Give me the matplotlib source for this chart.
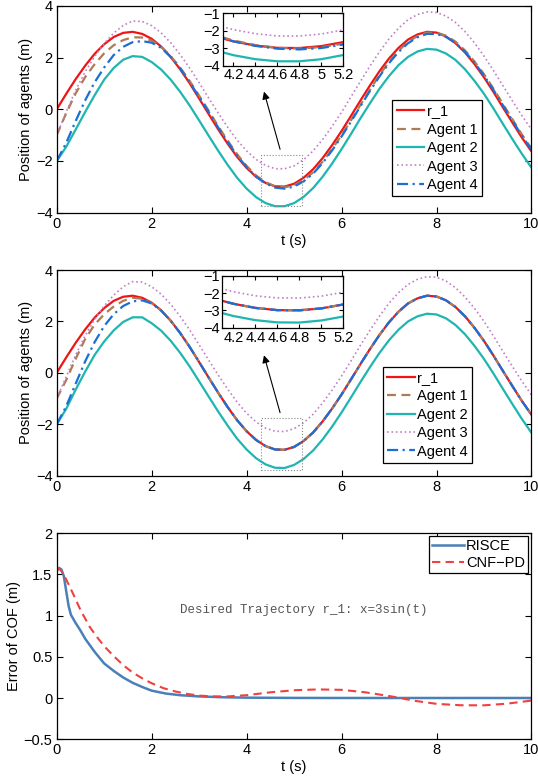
import numpy as np
import matplotlib
matplotlib.use('Agg')
import matplotlib.pyplot as plt
from matplotlib.patches import Rectangle

plt.rcParams['font.family'] = ['Liberation Sans', 'DejaVu Sans']
plt.rcParams['font.size'] = 10.5

# ---------------- data ----------------
t = np.round(np.arange(0, 10.001, 0.2), 1)

r1 = [0.00, 0.60, 1.17, 1.69, 2.15, 2.52, 2.80, 2.96, 3.00, 2.92,
      2.73, 2.43, 2.03, 1.55, 1.01, 0.42, -0.18, -0.77, -1.33, -1.84,
      -2.27, -2.61, -2.85, -2.98, -2.99, -2.88, -2.65, -2.32, -1.89, -1.39,
      -0.84, -0.25, 0.35, 0.93, 1.48, 1.97, 2.38, 2.70, 2.90, 3.00,
      2.97, 2.82, 2.56, 2.20, 1.75, 1.24, 0.67, 0.07, -0.52, -1.10, -1.63]

# panel 1 (top)
p1_agent1 = [-1.00, -0.15, 0.62, 1.25, 1.75, 2.17, 2.48, 2.68, 2.79, 2.78,
             2.66, 2.42, 2.06, 1.62, 1.10, 0.53, -0.05, -0.65, -1.21, -1.74,
             -2.19, -2.56, -2.82, -2.98, -3.02, -2.94, -2.74, -2.44, -2.03, -1.54,
             -1.00, -0.42, 0.18, 0.77, 1.33, 1.84, 2.27, 2.61, 2.84, 2.97,
             2.97, 2.85, 2.62, 2.28, 1.85, 1.36, 0.80, 0.20, -0.39, -0.98, -1.52]
p1_agent2 = [-2.00, -1.45, -0.78, -0.10, 0.55, 1.15, 1.60, 1.92, 2.06, 2.03,
             1.83, 1.54, 1.15, 0.68, 0.15, -0.43, -1.02, -1.60, -2.15, -2.65,
             -3.07, -3.40, -3.63, -3.75, -3.75, -3.63, -3.39, -3.05, -2.61, -2.10,
             -1.54, -0.95, -0.34, 0.24, 0.80, 1.29, 1.71, 2.03, 2.24, 2.34,
             2.31, 2.16, 1.91, 1.55, 1.10, 0.60, 0.03, -0.57, -1.16, -1.73, -2.26]
p1_agent3 = [-1.00, -0.10, 0.75, 1.45, 2.05, 2.55, 2.95, 3.25, 3.42, 3.40,
             3.24, 2.96, 2.58, 2.12, 1.60, 1.03, 0.44, -0.14, -0.69, -1.19,
             -1.61, -1.94, -2.17, -2.30, -2.30, -2.19, -1.95, -1.61, -1.17, -0.66,
             -0.11, 0.49, 1.09, 1.68, 2.23, 2.73, 3.14, 3.47, 3.67, 3.77,
             3.75, 3.61, 3.36, 3.01, 2.57, 2.06, 1.50, 0.91, 0.32, -0.25, -0.78]
p1_agent4 = [-2.00, -1.30, -0.45, 0.35, 1.05, 1.62, 2.10, 2.42, 2.60, 2.64,
             2.58, 2.38, 2.03, 1.58, 1.05, 0.48, -0.10, -0.70, -1.26, -1.79,
             -2.24, -2.61, -2.87, -3.03, -3.07, -2.99, -2.79, -2.49, -2.08, -1.59,
             -1.05, -0.47, 0.13, 0.72, 1.28, 1.79, 2.22, 2.56, 2.79, 2.92,
             2.92, 2.80, 2.57, 2.23, 1.80, 1.31, 0.75, 0.15, -0.44, -1.03, -1.57]

# panel 2 (middle)
p2_agent1 = [-1.00, -0.28, 0.55, 1.32, 1.88, 2.28, 2.58, 2.80, 2.92, 2.88,
             2.71, 2.43, 2.03, 1.55, 1.01, 0.42, -0.18, -0.77, -1.33, -1.84,
             -2.27, -2.61, -2.85, -2.98, -2.99, -2.88, -2.65, -2.32, -1.89, -1.39,
             -0.84, -0.25, 0.35, 0.93, 1.48, 1.97, 2.38, 2.70, 2.90, 3.00,
             2.97, 2.82, 2.56, 2.20, 1.75, 1.24, 0.67, 0.07, -0.52, -1.10, -1.63]
p2_agent2 = [-2.00, -1.40, -0.65, 0.05, 0.70, 1.22, 1.65, 1.98, 2.16, 2.16,
             1.93, 1.64, 1.25, 0.78, 0.25, -0.33, -0.92, -1.50, -2.05, -2.56,
             -2.98, -3.32, -3.56, -3.69, -3.70, -3.58, -3.35, -3.02, -2.59, -2.09,
             -1.54, -0.95, -0.35, 0.23, 0.78, 1.27, 1.68, 2.00, 2.20, 2.30,
             2.27, 2.12, 1.86, 1.50, 1.05, 0.54, -0.03, -0.63, -1.22, -1.80, -2.33]
p2_agent3 = [-1.00, -0.15, 0.70, 1.45, 2.08, 2.60, 3.02, 3.35, 3.55, 3.53,
             3.35, 3.06, 2.67, 2.20, 1.67, 1.09, 0.50, -0.08, -0.63, -1.14,
             -1.57, -1.91, -2.15, -2.27, -2.28, -2.17, -1.94, -1.61, -1.17, -0.67,
             -0.12, 0.47, 1.08, 1.66, 2.21, 2.71, 3.12, 3.44, 3.64, 3.74,
             3.72, 3.57, 3.31, 2.95, 2.51, 2.00, 1.43, 0.83, 0.24, -0.33, -0.86]
p2_agent4 = [-2.00, -1.30, -0.42, 0.45, 1.20, 1.82, 2.28, 2.60, 2.78, 2.82,
             2.70, 2.42, 2.03, 1.55, 1.01, 0.42, -0.18, -0.77, -1.33, -1.84,
             -2.27, -2.61, -2.85, -2.98, -2.99, -2.88, -2.65, -2.32, -1.89, -1.39,
             -0.84, -0.25, 0.35, 0.93, 1.48, 1.97, 2.38, 2.70, 2.90, 3.00,
             2.97, 2.82, 2.56, 2.20, 1.75, 1.24, 0.67, 0.07, -0.52, -1.10, -1.63]

# panel 3 (bottom): error of COF
t_risce = [0, 0.05, 0.1, 0.15, 0.2, 0.25, 0.3, 0.35, 0.4, 0.5, 0.6, 0.8, 1.0,
           1.2, 1.4, 1.6, 1.8, 2.0, 2.3, 2.6, 3.0, 3.5, 4.0, 5.0, 6.0, 8.0, 10.0]
err_risce = [1.55, 1.58, 1.56, 1.48, 1.30, 1.12, 1.01, 0.96, 0.91, 0.82, 0.72,
             0.56, 0.42, 0.33, 0.25, 0.185, 0.135, 0.09, 0.055, 0.035, 0.02,
             0.01, 0.005, 0.002, 0.001, 0.001, 0.001]
t_cnf = [0, 0.05, 0.1, 0.2, 0.35, 0.5, 0.7, 0.85, 1.0, 1.2, 1.4, 1.6, 1.8, 2.0,
         2.25, 2.5, 2.75, 3.0, 3.3, 3.6, 4.0, 4.5, 5.0, 5.5, 6.0, 6.5, 7.0,
         7.25, 7.5, 8.0, 8.5, 9.0, 9.5, 10.0]
err_cnf = [1.55, 1.57, 1.54, 1.44, 1.26, 1.07, 0.86, 0.74, 0.63, 0.51, 0.40,
           0.31, 0.24, 0.18, 0.12, 0.08, 0.05, 0.03, 0.02, 0.02, 0.035, 0.07,
           0.095, 0.105, 0.10, 0.07, 0.025, 0.0, -0.03, -0.07, -0.087, -0.088,
           -0.067, -0.03]

x_ticks = [0, 2, 4, 6, 8, 10]
pos_ticks = [-4, -2, 0, 2, 4]
err_ticks = [-0.5, 0, 0.5, 1, 1.5, 2]
inset_xticks = [4.2, 4.4, 4.6, 4.8, 5, 5.2]
inset_xlabels = ['4.2', '4.4', '4.6', '4.8', '5', '5.2']
inset_yticks = [-4, -3, -2, -1]
labels = ['r_1', 'Agent 1', 'Agent 2', 'Agent 3', 'Agent 4']

# ---------------- styles ----------------
C_R = '#f01414'
C_A1 = '#b07a55'
C_A2 = '#1fb5b0'
C_A3 = '#c27fc9'
C_A4 = '#1a6fd6'


def style(ax):
    ax.tick_params(direction='in', top=True, right=True, length=4, width=0.8,
                   pad=3, labelsize=10.5)
    for s in ax.spines.values():
        s.set_linewidth(0.9)


def draw_curves(ax, a1, a2, a3, a4):
    h = []
    h += ax.plot(t, r1, '-', color=C_R, lw=1.6)
    h += ax.plot(t, a1, '--', color=C_A1, lw=1.6, dashes=(4, 2.5))
    h += ax.plot(t, a2, '-', color=C_A2, lw=1.6)
    h += ax.plot(t, a3, ':', color=C_A3, lw=1.2)
    h += ax.plot(t, a4, '-.', color=C_A4, lw=1.6, dashes=(5, 2, 1, 2))
    return h


fig = plt.figure(figsize=(5.38, 7.79), dpi=100)

L, W = 0.1054, 0.8825
panels = [(0.727, 0.2653), (0.3893, 0.2641)]
insets = [(0.4136, 0.9157, 0.2245, 0.0673), (0.4132, 0.5793, 0.2249, 0.0664)]
legend_anchor = [(0.707, 0.545), (0.687, 0.53)]
data = [(p1_agent1, p1_agent2, p1_agent3, p1_agent4),
        (p2_agent1, p2_agent2, p2_agent3, p2_agent4)]

for k in range(2):
    b, hgt = panels[k]
    ax = fig.add_axes([L, b, W, hgt])
    hs = draw_curves(ax, *data[k])
    ax.set_xlim(0, 10)
    ax.set_ylim(-4, 4)
    ax.set_xticks(x_ticks)
    ax.set_yticks(pos_ticks)
    style(ax)
    ax.set_ylabel('Position of agents (m)', labelpad=2)
    if k == 0:
        ax.set_xlabel('t (s)', labelpad=2)
    ax.add_patch(Rectangle((4.3, -3.76), 0.87, 2.0, fill=False, ls=':',
                           ec='#888888', lw=0.8, zorder=5))
    ax.annotate('', xy=(4.35, 0.79), xytext=(4.72, -1.65),
                arrowprops=dict(arrowstyle='-|>', color='k', lw=0.8,
                                mutation_scale=11))
    leg = ax.legend(hs, labels, loc='upper left', bbox_to_anchor=legend_anchor[k],
                    fancybox=False, framealpha=1, edgecolor='k', fontsize=10.5,
                    handlelength=1.9, handletextpad=0.15, labelspacing=0.3,
                    borderpad=0.3, borderaxespad=0)
    leg.get_frame().set_linewidth(0.9)

    ia = fig.add_axes(list(insets[k]))
    draw_curves(ia, *data[k])
    ia.set_xlim(4.1, 5.2)
    ia.set_ylim(-4, -1)
    ia.set_xticks(inset_xticks)
    ia.set_xticklabels(inset_xlabels)
    ia.set_yticks(inset_yticks)
    ia.tick_params(direction='in', top=True, right=True, length=3, width=0.8,
                   pad=2, labelsize=10.5)
    for s in ia.spines.values():
        s.set_linewidth(0.9)

# bottom panel
ax3 = fig.add_axes([L, 0.0510, W, 0.2644])
h1, = ax3.plot(t_risce, err_risce, '-', color='#4a80b8', lw=1.8)
h2, = ax3.plot(t_cnf, err_cnf, '--', color='#f0403f', lw=1.5, dashes=(4, 2.5))
ax3.set_xlim(0, 10)
ax3.set_ylim(-0.5, 2)
ax3.set_xticks(x_ticks)
ax3.set_yticks(err_ticks)
ax3.set_yticklabels(['−0.5', '0', '0.5', '1', '1.5', '2'])
style(ax3)
ax3.set_ylabel('Error of COF (m)', labelpad=2)
ax3.set_xlabel('t (s)', labelpad=2)
ax3.text(5.2, 1.07, 'Desired Trajectory r_1: x=3sin(t)', family='Liberation Mono',
         fontsize=9, color='#555555', ha='center', va='center')
leg3 = ax3.legend([h1, h2], ['RISCE', 'CNF\u2212PD'], loc='upper right',
                  bbox_to_anchor=(0.992, 0.985), fancybox=False, framealpha=1,
                  edgecolor='k', fontsize=10.5, handlelength=2.2,
                  handletextpad=0.15, labelspacing=0.2, borderpad=0.2,
                  borderaxespad=0)
leg3.get_frame().set_linewidth(0.9)

fig.savefig('out.png', dpi=100)
